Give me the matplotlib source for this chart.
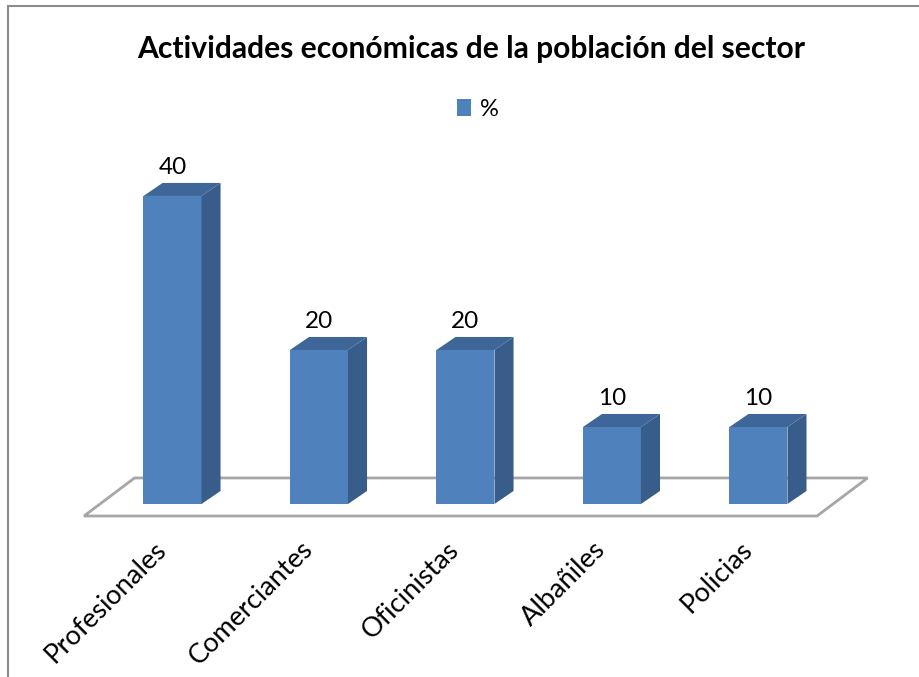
import matplotlib
matplotlib.use("Agg")
import matplotlib.pyplot as plt
from matplotlib.patches import Polygon, Rectangle, Patch

categories = ["Profesionales", "Comerciantes", "Oficinistas", "Albañiles", "Policias"]
values = [40, 20, 20, 10, 10]
series_name = "%"
title = "Actividades económicas de la población del sector"

front_color = "#4f81bd"
side_color = "#385d8a"
top_color = "#3e6699"
floor_color = "#a6a6a6"

plt.rcParams["font.family"] = ["Lato", "DejaVu Sans"]

W, H = 919, 677
fig = plt.figure(figsize=(W / 100, H / 100), dpi=100)

# plot area in pixels: x from 60 to 890, y from 150 to 530 (top-down)
ax = fig.add_axes([60 / W, (H - 530) / H, 830 / W, 380 / H])
ax.set_xlim(-0.768, 4.898)
ax.set_ylim(-3.377, 45.97)
ax.axis("off")

n = len(categories)
half = 0.198   # half bar width
dx = 0.13      # depth shift to the right
dy = 1.69      # depth shift upward

# floor of the 3d chart
fl, fr = -0.604, n - 1 + 0.4
fshift = 0.345
fy0, fy1 = -1.56, 3.38
floor = Polygon([(fl, fy0), (fr, fy0), (fr + fshift, fy1), (fl + fshift, fy1)],
                closed=True, facecolor="white", edgecolor=floor_color, lw=2, zorder=1)
ax.add_patch(floor)

for i, (cat, v) in enumerate(zip(categories, values)):
    x0, x1 = i - half, i + half
    ax.add_patch(Polygon([(x0, 0), (x1, 0), (x1, v), (x0, v)],
                         closed=True, facecolor=front_color, edgecolor="none", zorder=3))
    ax.add_patch(Polygon([(x1, 0), (x1 + dx, dy), (x1 + dx, v + dy), (x1, v)],
                         closed=True, facecolor=side_color, edgecolor="none", zorder=3))
    ax.add_patch(Polygon([(x0, v), (x1, v), (x1 + dx, v + dy), (x0 + dx, v + dy)],
                         closed=True, facecolor=top_color, edgecolor="none", zorder=3))
    ax.text(i, v + dy + 0.7, str(v), ha="center", va="bottom", fontsize=17.5, color="black")
    ax.text(i - 0.07, -5.4, cat, rotation=45, rotation_mode="anchor",
            ha="right", va="center", fontsize=19.5, clip_on=False)

fig.text(471 / W, 1 - 49 / H, title, ha="center", va="center",
         fontsize=21.6, fontweight="bold")

fig.legend(handles=[Patch(facecolor=front_color, edgecolor="none", label=series_name)],
           loc="center", bbox_to_anchor=(478 / W, 1 - 109 / H), frameon=False,
           handlelength=0.6, handleheight=0.75, handletextpad=0.4, fontsize=17)

# chart frame (only the top and left edges are inside the image)
fig.add_artist(Rectangle((8 / W, -0.1), 2, 1.1 - 6 / H, transform=fig.transFigure,
                         fill=False, edgecolor="#8c8c8c", lw=1.5))

fig.savefig("out.png", dpi=100, facecolor="white")
